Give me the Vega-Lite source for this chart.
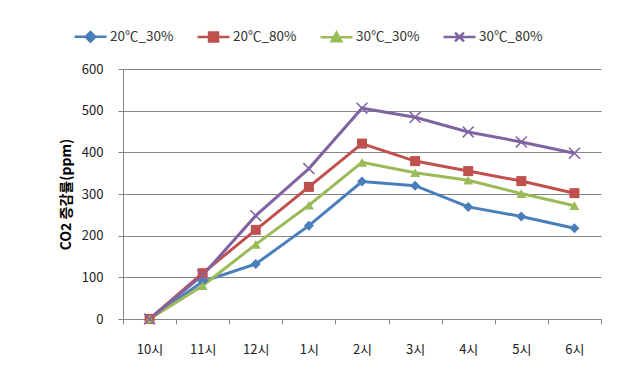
{
  "$schema": "https://vega.github.io/schema/vega-lite/v6.json",
  "width": 478,
  "height": 250,
  "autosize": {"type": "none"},
  "padding": {"left": 123, "top": 69, "right": 17, "bottom": 64},
  "background": "white",
  "config": {
    "view": {"stroke": null},
    "font": "Noto Sans CJK KR"
  },
  "data": {
    "values": [
      {"series": "20℃_30%", "time": "10시", "value": 0},
      {"series": "20℃_30%", "time": "11시", "value": 90},
      {"series": "20℃_30%", "time": "12시", "value": 132},
      {"series": "20℃_30%", "time": "1시", "value": 224},
      {"series": "20℃_30%", "time": "2시", "value": 330},
      {"series": "20℃_30%", "time": "3시", "value": 320},
      {"series": "20℃_30%", "time": "4시", "value": 269},
      {"series": "20℃_30%", "time": "5시", "value": 246},
      {"series": "20℃_30%", "time": "6시", "value": 218},
      {"series": "20℃_80%", "time": "10시", "value": 0},
      {"series": "20℃_80%", "time": "11시", "value": 110},
      {"series": "20℃_80%", "time": "12시", "value": 214},
      {"series": "20℃_80%", "time": "1시", "value": 317},
      {"series": "20℃_80%", "time": "2시", "value": 421},
      {"series": "20℃_80%", "time": "3시", "value": 379},
      {"series": "20℃_80%", "time": "4시", "value": 355},
      {"series": "20℃_80%", "time": "5시", "value": 331},
      {"series": "20℃_80%", "time": "6시", "value": 302},
      {"series": "30℃_30%", "time": "10시", "value": 0},
      {"series": "30℃_30%", "time": "11시", "value": 80},
      {"series": "30℃_30%", "time": "12시", "value": 179},
      {"series": "30℃_30%", "time": "1시", "value": 273},
      {"series": "30℃_30%", "time": "2시", "value": 376},
      {"series": "30℃_30%", "time": "3시", "value": 351},
      {"series": "30℃_30%", "time": "4시", "value": 333},
      {"series": "30℃_30%", "time": "5시", "value": 301},
      {"series": "30℃_30%", "time": "6시", "value": 272},
      {"series": "30℃_80%", "time": "10시", "value": 0},
      {"series": "30℃_80%", "time": "11시", "value": 105},
      {"series": "30℃_80%", "time": "12시", "value": 248},
      {"series": "30℃_80%", "time": "1시", "value": 361},
      {"series": "30℃_80%", "time": "2시", "value": 506},
      {"series": "30℃_80%", "time": "3시", "value": 484},
      {"series": "30℃_80%", "time": "4시", "value": 449},
      {"series": "30℃_80%", "time": "5시", "value": 425},
      {"series": "30℃_80%", "time": "6시", "value": 398}
    ]
  },
  "encoding": {
    "x": {
      "field": "time",
      "type": "ordinal",
      "sort": ["10시", "11시", "12시", "1시", "2시", "3시", "4시", "5시", "6시"],
      "scale": {"type": "band", "paddingInner": 0, "paddingOuter": 0},
      "axis": {
        "title": null,
        "labelAngle": 0,
        "tickBand": "extent",
        "tickSize": 5,
        "tickColor": "#868686",
        "domainColor": "#868686",
        "labelPadding": 19,
        "labelFontSize": 13,
        "labelColor": "#222222",
        "grid": false
      }
    },
    "y": {
      "field": "value",
      "type": "quantitative",
      "scale": {"domain": [0, 600], "nice": false},
      "axis": {
        "values": [0, 100, 200, 300, 400, 500, 600],
        "title": "CO2 증감률(ppm)",
        "titleFontWeight": "bold",
        "titleFontSize": 14,
        "titleColor": "#000000",
        "titlePadding": 8,
        "grid": true,
        "gridColor": "#868686",
        "domainColor": "#868686",
        "tickColor": "#868686",
        "tickSize": 5,
        "labelPadding": 15,
        "labelFontSize": 13,
        "labelColor": "#222222"
      }
    },
    "color": {
      "field": "series",
      "type": "nominal",
      "scale": {
        "domain": ["20℃_30%", "20℃_80%", "30℃_30%", "30℃_80%"],
        "range": ["#4A7EBB", "#C0504D", "#9BBB59", "#8064A2"]
      },
      "legend": {
        "title": null,
        "orient": "none",
        "legendX": -50,
        "legendY": -50,
        "direction": "horizontal",
        "columns": 4,
        "padding": 0,
        "symbolSize": 1024,
        "symbolStrokeWidth": 2.5,
        "labelOffset": 2,
        "columnPadding": 18,
        "labelFontSize": 13.5,
        "labelColor": "#333333",
        "encode": {
          "symbols": {
            "update": {
              "shape": {"signal": "datum.value === '20℃_30%' ? 'M-1,0H1M0,-0.3L0.3,0L0,0.3L-0.3,0Z' : datum.value === '20℃_80%' ? 'M-1,0H1M-0.28,-0.28H0.28V0.28H-0.28Z' : datum.value === '30℃_30%' ? 'M-1,0H1M0,-0.3L0.3,0.24L-0.3,0.24Z' : 'M-1,0H1M-0.28,-0.28L0.28,0.28M-0.28,0.28L0.28,-0.28'"},
              "fill": {"signal": "datum.value === '20℃_30%' ? '#4A7EBB' : datum.value === '20℃_80%' ? '#C0504D' : datum.value === '30℃_30%' ? '#9BBB59' : '#8064A2'"},
              "stroke": {"signal": "datum.value === '20℃_30%' ? '#4A7EBB' : datum.value === '20℃_80%' ? '#C0504D' : datum.value === '30℃_30%' ? '#9BBB59' : '#8064A2'"},
              "opacity": {"value": 1}
            }
          }
        }
      }
    }
  },
  "layer": [
    {"mark": {"type": "line", "strokeWidth": 3}},
    {
      "transform": [{"filter": "datum.series !== '30℃_80%'"}],
      "mark": {"type": "point", "filled": true, "opacity": 1, "size": 100},
      "encoding": {
        "shape": {
          "field": "series",
          "type": "nominal",
          "scale": {
            "domain": ["20℃_30%", "20℃_80%", "30℃_30%"],
            "range": ["diamond", "square", "triangle-up"]
          },
          "legend": null
        }
      }
    },
    {
      "transform": [{"filter": "datum.series === '30℃_80%'"}],
      "mark": {
        "type": "point",
        "filled": false,
        "shape": "M-1,-1L1,1M-1,1L1,-1",
        "size": 120,
        "strokeWidth": 1.5,
        "opacity": 1
      }
    }
  ]
}
